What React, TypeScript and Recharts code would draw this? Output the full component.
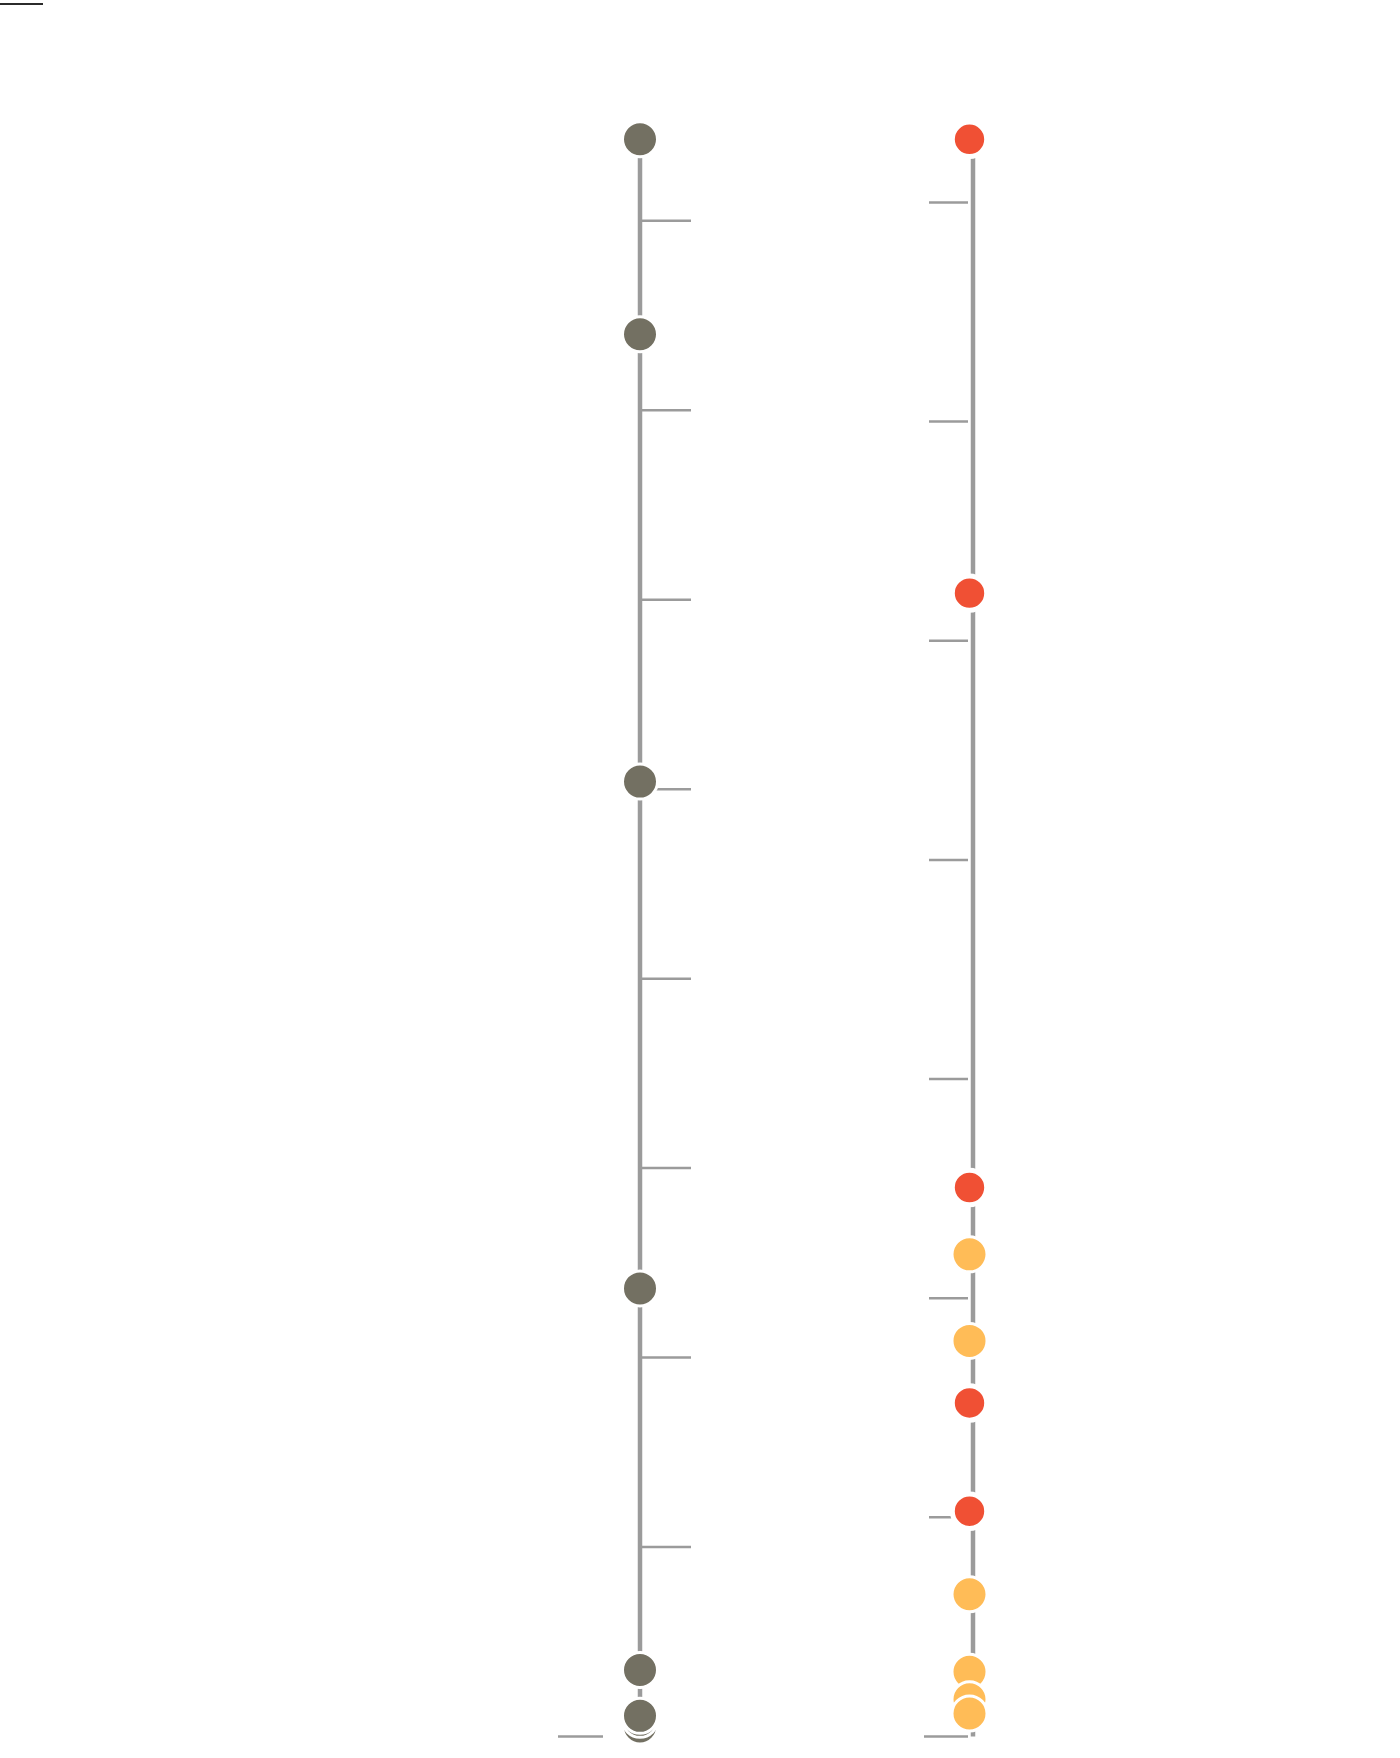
import { ComposedChart, Scatter, XAxis, YAxis, ReferenceLine } from 'recharts';

// columna izquierda (gris), de abajo hacia arriba
const leftValues = [0.053, 0.088, 0.109, 0.351, 2.365, 5.04, 7.401, 8.43];
// columna derecha, de arriba hacia abajo
const rightValues = [7.288, 5.217, 2.505, 2.2, 1.805, 1.522, 1.028, 0.649, 0.295, 0.17, 0.105];
const rightKinds = ['red', 'red', 'red', 'yellow', 'yellow', 'red', 'red', 'yellow', 'yellow', 'yellow', 'yellow'];

const leftTicks = [0, 1, 2, 3, 4, 5, 6, 7, 8];
const rightTicks = [0, 1, 2, 3, 4, 5, 6, 7];

const GRAY = '#737062';
const RED = '#f05034';
const YELLOW = '#ffbc57';
const LINE = '#9b9b9b';

const leftData = leftValues.map(v => ({ col: 0, v }));
const rightData = rightValues.map((v, i) => ({ col: 1, v, kind: rightKinds[i] }));
const leftTickData = leftTicks.map(v => ({ col: 0, v }));
const rightTickData = rightTicks.map(v => ({ col: 1, v }));

const leftMax = Math.max(...leftValues);
const rightMax = Math.max(...rightValues);

// marcas de escala: se dibujan como serie para quedar debajo de los puntos
function LeftTick({ cx, cy, payload }: any) {
  // el cero va del lado izquierdo
  if (payload.v === 0) {
    return <line x1={cx - 82} x2={cx - 37} y1={cy} y2={cy} stroke={LINE} strokeWidth={2.5} />;
  }
  return <line x1={cx + 2} x2={cx + 51} y1={cy} y2={cy} stroke={LINE} strokeWidth={2.5} />;
}

function RightTick({ cx, cy, payload }: any) {
  const x1 = payload.v === 0 ? cx - 49 : cx - 44;
  return <line x1={x1} x2={cx - 5} y1={cy} y2={cy} stroke={LINE} strokeWidth={2.5} />;
}

function GrayDot({ cx, cy }: any) {
  return <circle cx={cx} cy={cy} r={17.5} fill={GRAY} stroke="#fff" strokeWidth={3} />;
}

function RightDot({ cx, cy, payload }: any) {
  if (payload.kind === 'red') {
    return <circle cx={cx - 3.5} cy={cy} r={17.2} fill={RED} stroke="#fff" strokeWidth={5} />;
  }
  return <circle cx={cx - 3.5} cy={cy} r={17.5} fill={YELLOW} stroke="#fff" strokeWidth={3} />;
}

export default function App() {
  return (
    <div style={{ position: 'absolute', left: 0, top: 0, width: 1400, height: 1758, background: '#fff' }}>
      <div style={{ position: 'absolute', left: 0, top: 3, width: 43, height: 2, background: '#2b2b2b' }} />
      <ComposedChart
        width={1400}
        height={1758}
        margin={{ top: 139.3, right: 427, bottom: 21.5, left: 640 }}
      >
        <XAxis dataKey="col" type="number" domain={[0, 1]} hide />
        <YAxis yAxisId="L" dataKey="v" type="number" domain={[0, leftMax]} hide />
        <YAxis yAxisId="R" dataKey="v" type="number" domain={[0, rightMax]} hide />
        <ReferenceLine
          yAxisId="L"
          segment={[{ x: 0, y: 0 }, { x: 0, y: leftMax }]}
          stroke={LINE}
          strokeWidth={4.5}
        />
        <ReferenceLine
          yAxisId="R"
          segment={[{ x: 1, y: 0 }, { x: 1, y: rightMax }]}
          stroke={LINE}
          strokeWidth={4.5}
        />
        <Scatter yAxisId="L" data={leftTickData} dataKey="v" shape={<LeftTick />} isAnimationActive={false} />
        <Scatter yAxisId="R" data={rightTickData} dataKey="v" shape={<RightTick />} isAnimationActive={false} />
        <Scatter yAxisId="L" data={leftData} dataKey="v" shape={<GrayDot />} isAnimationActive={false} />
        <Scatter yAxisId="R" data={rightData} dataKey="v" shape={<RightDot />} isAnimationActive={false} />
      </ComposedChart>
    </div>
  );
}
